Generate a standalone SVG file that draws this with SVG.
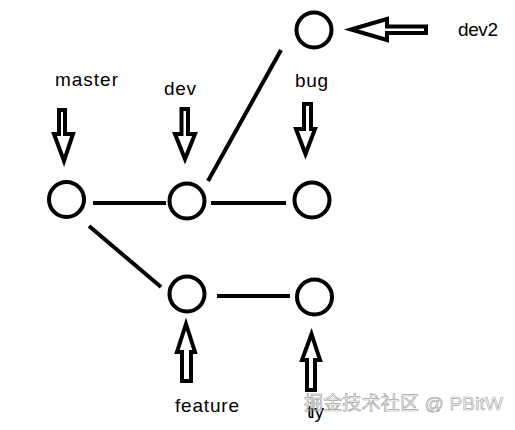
<svg xmlns="http://www.w3.org/2000/svg" width="515" height="430" viewBox="0 0 515 430">
<style>
.n{fill:#fff;stroke:#000;stroke-width:4}
.c{stroke:#000;stroke-width:4;fill:none}
.a{fill:#fff;stroke:#000;stroke-width:4;stroke-linejoin:miter;stroke-miterlimit:10}
.t{font-family:"Liberation Sans",Arial,sans-serif;font-size:19px;fill:#000}
.w{font-family:"Liberation Sans","Noto Sans CJK SC",sans-serif;font-size:19px;fill:#fff;fill-opacity:0.5;stroke:#8a8a8a;stroke-width:0.7;stroke-opacity:0.8}
</style>
<rect width="515" height="430" fill="#fff"/>
<g id="connectors">
<line class="c" x1="93" y1="203" x2="166" y2="203"/>
<line class="c" x1="211" y1="203" x2="286" y2="203"/>
<line class="c" x1="89" y1="226" x2="161" y2="287"/>
<line class="c" x1="217" y1="296" x2="290" y2="296"/>
<line class="c" x1="208" y1="181" x2="281" y2="50"/>
</g>
<g id="node-master"><circle class="n" cx="66.5" cy="199.5" r="17.5"/></g>
<g id="node-dev"><circle class="n" cx="187" cy="201" r="17.5"/></g>
<g id="node-bug"><circle class="n" cx="312" cy="200" r="17.5"/></g>
<g id="node-feature"><circle class="n" cx="187" cy="294" r="17.5"/></g>
<g id="node-try"><circle class="n" cx="314.5" cy="297" r="17.5"/></g>
<g id="node-dev2"><circle class="n" cx="314" cy="30" r="17.5"/></g>
<g id="label-master">
<text class="t" x="55" y="86" textLength="63">master</text>
<path class="a" d="M59,110 H65 V134 H73 L64,161 L54,134 H59 Z"/>
</g>
<g id="label-dev">
<text class="t" x="164" y="95" textLength="32">dev</text>
<path class="a" d="M181.5,109 H188 V134 H195 L185,159 L175,134 H181.5 Z"/>
</g>
<g id="label-bug">
<text class="t" x="295" y="87" textLength="33">bug</text>
<path class="a" d="M304,104 H311 V129 H315 L305.5,154 L296,129 H304 Z"/>
</g>
<g id="label-dev2">
<text class="t" x="458" y="36" textLength="40">dev2</text>
<path class="a" d="M351,29.5 L387,19 V26.5 H426 V33 H387 V40 Z"/>
</g>
<g id="label-feature">
<text class="t" x="175" y="412" textLength="64">feature</text>
<path class="a" d="M186,324 L195,352 H191 V381 H182 V352 H177 Z"/>
</g>
<g id="label-try">
<path class="a" d="M311.5,334 L320,360 H315 V390 H307 V360 H302 Z"/>
<text class="t" x="307" y="418" textLength="17">try</text>
</g>
<text class="w" x="304" y="410" textLength="199">掘金技术社区 @ PBitW</text>
</svg>
